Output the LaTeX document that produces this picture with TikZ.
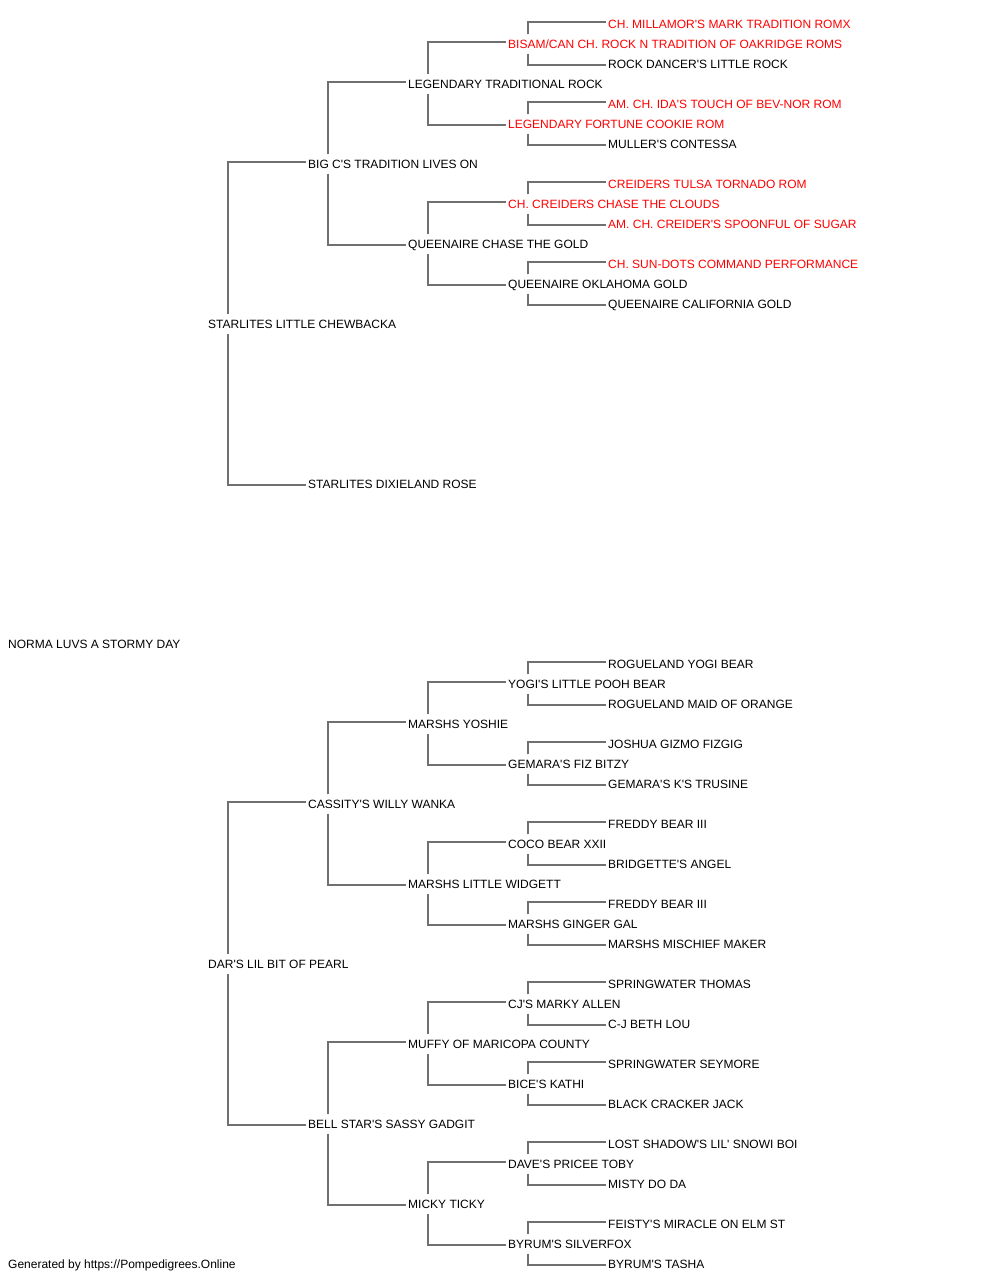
\documentclass[tikz,border=0pt]{standalone}
\usepackage{fontspec}
\setmainfont{Liberation Sans}[Ligatures=TeXOff]
\definecolor{lineg}{RGB}{112,112,112}
\definecolor{champred}{RGB}{255,0,0}
\newcommand{\pfont}{\fontsize{12}{14}\selectfont}
\tikzset{
  pname/.style={anchor=west,inner xsep=2pt,inner ysep=5pt,text height=9pt,text depth=0pt,font=\pfont},
  champ/.style={pname,text=champred},
  tie/.style={draw=lineg,line width=1.5pt}
}
\begin{document}
\begin{tikzpicture}[x=1pt,y=-1pt]
        \useasboundingbox (0,0) rectangle (1000,1280);
        %% subject
        \node[pname] (x) at (6,644) {NORMA LUVS A STORMY DAY};
        %% parents and grandparents
        \node[pname] (s) at (206,324) {STARLITES LITTLE CHEWBACKA};
        \node[pname] (d) at (206,964) {DAR'S LIL BIT OF PEARL};
        \node[pname] (ss) at (306,164) {BIG C'S TRADITION LIVES ON};
        \node[pname] (sd) at (306,484) {STARLITES DIXIELAND ROSE};
        \node[pname] (ds) at (306,804) {CASSITY'S WILLY WANKA};
        \node[pname] (dd) at (306,1124) {BELL STAR'S SASSY GADGIT};
        %% third generation
        \node[pname] (sss) at (406,84) {LEGENDARY TRADITIONAL ROCK};
        \node[pname] (ssd) at (406,244) {QUEENAIRE CHASE THE GOLD};
        \node[pname] (dss) at (406,724) {MARSHS YOSHIE};
        \node[pname] (dsd) at (406,884) {MARSHS LITTLE WIDGETT};
        \node[pname] (dds) at (406,1044) {MUFFY OF MARICOPA COUNTY};
        \node[pname] (ddd) at (406,1204) {MICKY TICKY};
        %% fourth generation
        \node[champ] (ssss) at (506,44) {BISAM/CAN CH. ROCK N TRADITION OF OAKRIDGE ROMS};
        \node[champ] (sssd) at (506,124) {LEGENDARY FORTUNE COOKIE ROM};
        \node[champ] (ssds) at (506,204) {CH. CREIDERS CHASE THE CLOUDS};
        \node[pname] (ssdd) at (506,284) {QUEENAIRE OKLAHOMA GOLD};
        \node[pname] (dsss) at (506,684) {YOGI'S LITTLE POOH BEAR};
        \node[pname] (dssd) at (506,764) {GEMARA'S FIZ BITZY};
        \node[pname] (dsds) at (506,844) {COCO BEAR XXII};
        \node[pname] (dsdd) at (506,924) {MARSHS GINGER GAL};
        \node[pname] (ddss) at (506,1004) {CJ'S MARKY ALLEN};
        \node[pname] (ddsd) at (506,1084) {BICE'S KATHI};
        \node[pname] (ddds) at (506,1164) {DAVE'S PRICEE TOBY};
        \node[pname] (dddd) at (506,1244) {BYRUM'S SILVERFOX};
        %% fifth generation
        \node[champ] (sssss) at (606,24) {CH. MILLAMOR'S MARK TRADITION ROMX};
        \node[pname] (ssssd) at (606,64) {ROCK DANCER'S LITTLE ROCK};
        \node[champ] (sssds) at (606,104) {AM. CH. IDA'S TOUCH OF BEV-NOR ROM};
        \node[pname] (sssdd) at (606,144) {MULLER'S CONTESSA};
        \node[champ] (ssdss) at (606,184) {CREIDERS TULSA TORNADO ROM};
        \node[champ] (ssdsd) at (606,224) {AM. CH. CREIDER'S SPOONFUL OF SUGAR};
        \node[champ] (ssdds) at (606,264) {CH. SUN-DOTS COMMAND PERFORMANCE};
        \node[pname] (ssddd) at (606,304) {QUEENAIRE CALIFORNIA GOLD};
        \node[pname] (dssss) at (606,664) {ROGUELAND YOGI BEAR};
        \node[pname] (dsssd) at (606,704) {ROGUELAND MAID OF ORANGE};
        \node[pname] (dssds) at (606,744) {JOSHUA GIZMO FIZGIG};
        \node[pname] (dssdd) at (606,784) {GEMARA'S K'S TRUSINE};
        \node[pname] (dsdss) at (606,824) {FREDDY BEAR III};
        \node[pname] (dsdsd) at (606,864) {BRIDGETTE'S ANGEL};
        \node[pname] (dsdds) at (606,904) {FREDDY BEAR III};
        \node[pname] (dsddd) at (606,944) {MARSHS MISCHIEF MAKER};
        \node[pname] (ddsss) at (606,984) {SPRINGWATER THOMAS};
        \node[pname] (ddssd) at (606,1024) {C-J BETH LOU};
        \node[pname] (ddsds) at (606,1064) {SPRINGWATER SEYMORE};
        \node[pname] (ddsdd) at (606,1104) {BLACK CRACKER JACK};
        \node[pname] (dddss) at (606,1144) {LOST SHADOW'S LIL' SNOWI BOI};
        \node[pname] (dddsd) at (606,1184) {MISTY DO DA};
        \node[pname] (dddds) at (606,1224) {FEISTY'S MIRACLE ON ELM ST};
        \node[pname] (ddddd) at (606,1264) {BYRUM'S TASHA};
        %% lines
        \foreach \p in {s,d,ss,ds,dd,sss,ssd,dss,dsd,dds,ddd,ssss,sssd,ssds,ssdd,dsss,dssd,dsds,dsdd,ddss,ddsd,ddds,dddd} {
            \draw[tie] ([xshift=22pt]\p.north west) |- ([yshift=2pt]\p s.west);
            \draw[tie] ([xshift=22pt]\p.south west) |- ([yshift=-1pt]\p d.west);
        }
        %% footer
        \node[pname] (foot) at (6,1264) {Generated by https://Pompedigrees.Online};
    \end{tikzpicture}
\end{document}
